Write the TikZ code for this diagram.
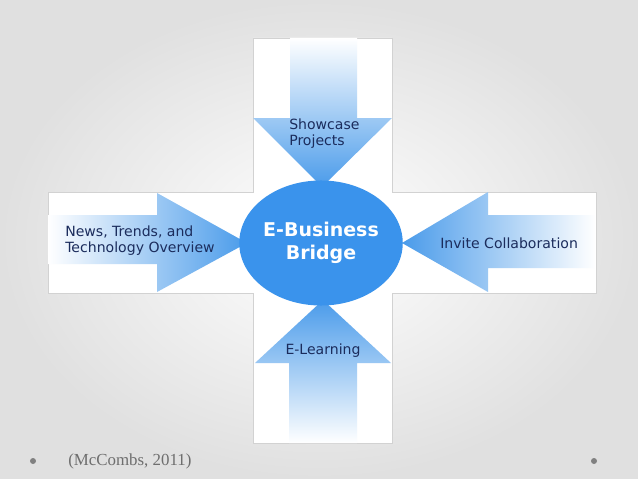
\documentclass[tikz,border=0pt]{standalone}
\usepackage{fontspec}
\setmainfont{Liberation Serif}
\newfontfamily\verdfont{DejaVu Sans}
\usetikzlibrary{positioning,shapes.geometric}
\definecolor{BridgeBlue}{HTML}{3A93EC}
\definecolor{ArrowBlue}{HTML}{4A9BEA}
\definecolor{LabelNavy}{HTML}{1B2C5C}
\definecolor{SlideGray}{HTML}{E0E0E0}
\definecolor{CiteGray}{HTML}{6E6E6E}

\begin{document}
\begin{tikzpicture}[x=0.025cm,y=-0.025cm,
  bridge/.style={ellipse,fill=BridgeBlue,minimum width=4cm,minimum height=3.125cm,inner sep=0pt,
    align=center,text=white,font=\verdfont\bfseries\fontsize{13.5}{16}\selectfont},
  lbl/.style={font=\verdfont\fontsize{10}{11.5}\selectfont,text=LabelNavy,align=left,inner sep=0pt},
  panel/.style={fill=white,draw=gray!35,line width=0.4pt},
  dot/.style={fill=gray}
]
% slide background
\shade[inner color=white,outer color=SlideGray] (0,0) rectangle (638,479);
\useasboundingbox (0,0) rectangle (638,479);
% white cross behind the figure
\draw[panel] (253,38) -- (392,38) -- (392,192) -- (596,192) -- (596,293) -- (392,293)
  -- (392,443) -- (253,443) -- (253,293) -- (48,293) -- (48,192) -- (253,192) -- cycle;
% arrows
\shade[top color=white,middle color=ArrowBlue!65,bottom color=ArrowBlue] (290,38) -- (357,38)
  -- (357,118) -- (392,118) -- (322,187) -- (253,118) -- (290,118) -- cycle;
\shade[top color=ArrowBlue,middle color=ArrowBlue!65,bottom color=white] (289,443) -- (357,443)
  -- (357,363) -- (391,363) -- (323,300) -- (255,363) -- (289,363) -- cycle;
\shade[left color=white,middle color=ArrowBlue!65,right color=ArrowBlue] (48,215) -- (157,215)
  -- (157,193) -- (247,243) -- (157,292) -- (157,264) -- (48,264) -- cycle;
\shade[left color=ArrowBlue,middle color=ArrowBlue!65,right color=white] (402,243) -- (488,192)
  -- (488,215) -- (595,215) -- (595,268) -- (488,268) -- (488,292) -- cycle;
% centre
\node[bridge] (bridge) at (321,243) {E-Business\\Bridge};
% labels
\node[lbl,anchor=west] (showcase) at (289,134) {Showcase\\Projects};
\node[lbl,anchor=west] (news) at (65,241) {News, Trends, and\\Technology Overview};
\node[lbl,anchor=west] (invite) at (440,243) {Invite Collaboration};
\node[lbl] (elearning) at (323,351) {E-Learning};
% footer
\fill[dot] (33,461) circle (3);
\fill[dot] (594,461) circle (3);
\node[anchor=west,text=CiteGray,font=\fontsize{12}{14}\selectfont,inner sep=0pt] (cite) at (68,461) {(McCombs, 2011)};
\end{tikzpicture}
\end{document}
